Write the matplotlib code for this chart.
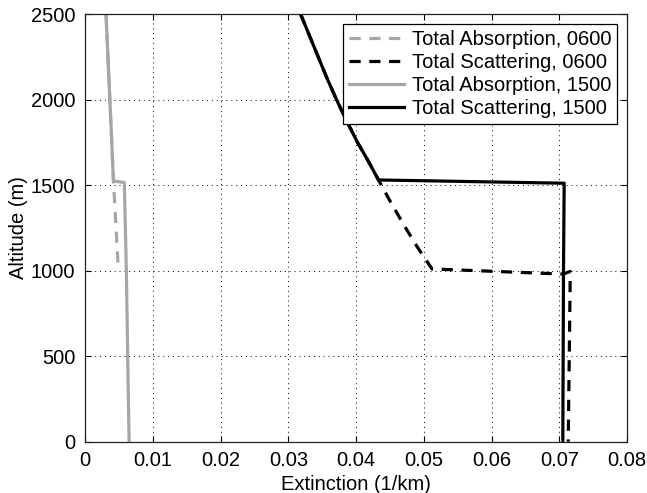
import numpy as np
import matplotlib.pyplot as plt

plt.rcParams['font.family'] = ['Liberation Sans', 'DejaVu Sans']
plt.rcParams['font.size'] = 14.5

# absorption profiles (extinction in 1/km, altitude in m)
abs_0600_x = [0.0031, 0.0042, 0.0049]
abs_0600_y = [2500, 1524, 1015]
abs_1500_x = [0.0031, 0.0042, 0.0058, 0.0061, 0.0065]
abs_1500_y = [2500, 1524, 1515, 1000, 0]

# scattering profiles
sca_0600_x = [0.0318, 0.0331, 0.0344, 0.0357, 0.0371, 0.0386, 0.0402, 0.0418, 0.0433,
              0.0451, 0.0470, 0.0490, 0.0512, 0.0705, 0.0716, 0.0713]
sca_0600_y = [2500, 2375, 2250, 2125, 2000, 1875, 1750, 1640, 1530,
              1400, 1270, 1140, 1010, 980, 995, 0]
sca_1500_x = [0.0318, 0.0331, 0.0344, 0.0357, 0.0371, 0.0386, 0.0402, 0.0418, 0.0433,
              0.0707, 0.0706, 0.0705]
sca_1500_y = [2500, 2375, 2250, 2125, 2000, 1875, 1750, 1640, 1530, 1511, 1000, 0]

gray = '#a6a6a6'
dash = (0, (3.5, 2.7))

fig = plt.figure(figsize=(6.47, 4.93), dpi=100)
ax = fig.add_axes([0.1314, 0.104, 0.838, 0.8676])

ax.plot(abs_0600_x, abs_0600_y, color=gray, lw=2.3, linestyle=dash, label='Total Absorption, 0600')
ax.plot(sca_0600_x, sca_0600_y, color='k', lw=2.3, linestyle=dash, label='Total Scattering, 0600')
ax.plot(abs_1500_x, abs_1500_y, color=gray, lw=2.3, label='Total Absorption, 1500')
ax.plot(sca_1500_x, sca_1500_y, color='k', lw=2.3, label='Total Scattering, 1500')

ax.set_xlim(0, 0.08)
ax.set_ylim(0, 2500)
ax.set_xticks(np.arange(0, 0.081, 0.01))
ax.set_xticklabels(['0', '0.01', '0.02', '0.03', '0.04', '0.05', '0.06', '0.07', '0.08'])
ax.set_yticks(np.arange(0, 2501, 500))
ax.tick_params(direction='in', top=True, right=True, length=4, width=0.8, pad=7)
ax.grid(True, color='k', linestyle=(0, (1, 4)), linewidth=0.7)
for s in ax.spines.values():
    s.set_linewidth(0.9)
    s.set_color('#222222')

ax.set_xlabel('Extinction (1/km)', labelpad=3)
ax.set_ylabel('Altitude (m)', labelpad=2)

leg = ax.legend(loc='upper right', handlelength=2.7, handletextpad=0.4,
                labelspacing=0.2, borderpad=0.3, borderaxespad=0.5,
                fancybox=False, framealpha=1, edgecolor='k')
leg.get_frame().set_linewidth(0.9)

fig.savefig('out.png', dpi=100)
